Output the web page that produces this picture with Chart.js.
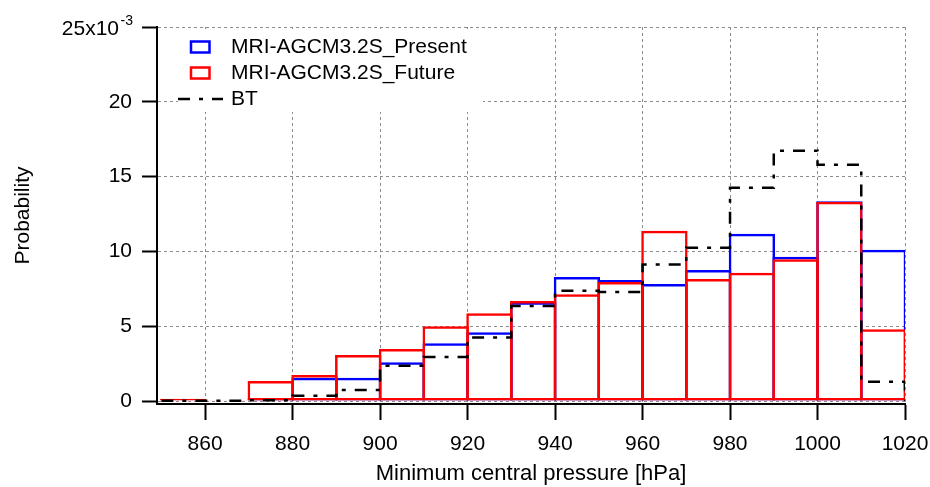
<!DOCTYPE html>
<html>
<head>
<meta charset="utf-8">
<script src="https://cdn.jsdelivr.net/npm/chart.js@4.4.1/dist/chart.umd.min.js"></script>
<style>
  html, body { margin: 0; padding: 0; background: #fff; }
  #wrap { width: 930px; height: 487px; }
</style>
</head>
<body>
<div id="wrap"><canvas id="hist" width="930" height="487"></canvas></div>
<script>
// bin left edges (hPa), 10 hPa bins
const binLeft = [850, 860, 870, 880, 890, 900, 910, 920, 930, 940, 950, 960, 970, 980, 990, 1000, 1010]
const binWidth = 10

// probability, in units of 1e-3
const present = [0.05, 0.0, 0.18, 1.56, 1.56, 2.59, 3.86, 4.59, 6.6, 8.29, 8.09, 7.82, 8.76, 11.18, 9.65, 13.35, 10.11]
const future = [0.15, 0.05, 1.34, 1.74, 3.07, 3.48, 4.99, 5.86, 6.68, 7.13, 7.95, 11.38, 8.16, 8.58, 9.47, 13.32, 4.79]
const bt = [0.02, 0.02, 0.05, 0.35, 0.73, 2.35, 2.95, 4.25, 6.35, 7.37, 7.29, 9.13, 10.24, 14.26, 16.73, 15.79, 1.29]

const xTicks = [860, 880, 900, 920, 940, 960, 980, 1000, 1020]
const yTicks = [0, 5, 10, 15, 20, 25]

const FONT = "'Liberation Sans', Arial, Helvetica, sans-serif"

const barData = (vals) => vals.map((v, i) => ({x: binLeft[i] + binWidth / 2, y: v}))
const stepData = (vals) => {
  const pts = vals.map((v, i) => ({x: binLeft[i], y: v}))
  const end = binLeft[binLeft.length - 1] + binWidth
  pts.push({x: end, y: vals[vals.length - 1]})
  pts.push({x: end, y: 0})
  return pts
}

const BT_DASH = [12, 9, 4, 9]

// legend inside the plot, top left, on a white patch
const insideLegend = {
  id: 'insideLegend',
  afterDatasetsDraw(chart) {
    const ctx = chart.ctx
    const ds = chart.data.datasets
    ctx.save()
    ctx.fillStyle = '#fff'
    ctx.fillRect(178, 29, 305, 83)
    ctx.font = '21px ' + FONT
    ctx.textBaseline = 'alphabetic'
    ctx.fillStyle = '#000'
    const rows = [53, 79, 105]
    ds.forEach((d, i) => {
      const base = rows[i]
      ctx.strokeStyle = d.borderColor
      ctx.lineWidth = 2.5
      if (d.type === 'line') {
        ctx.setLineDash(BT_DASH)
        ctx.beginPath()
        ctx.moveTo(178, base - 6)
        ctx.lineTo(223, base - 6)
        ctx.stroke()
        ctx.setLineDash([])
      } else {
        ctx.strokeRect(191, base - 11.5, 18.5, 11)
      }
      ctx.fillText(d.label, 231, base)
    })
    ctx.restore()
  }
}

// "25x10^-3" top tick label
const topLabel = {
  id: 'topLabel',
  afterDraw(chart) {
    const y = chart.scales.y.getPixelForValue(25)
    const ctx = chart.ctx
    ctx.save()
    ctx.fillStyle = '#000'
    ctx.textAlign = 'right'
    ctx.textBaseline = 'alphabetic'
    ctx.font = '14px ' + FONT
    ctx.fillText('-3', 133, y - 2)
    ctx.font = '21px ' + FONT
    ctx.fillText('25x10', 119, y + 7.5)
    ctx.restore()
  }
}

new Chart(document.getElementById('hist'), {
  type: 'bar',
  data: {
    datasets: [
      {
        label: 'MRI-AGCM3.2S_Present',
        data: barData(present),
        backgroundColor: 'rgba(0,0,0,0)',
        borderColor: '#0000ff',
        borderWidth: 2.5,
        borderSkipped: false,
        grouped: false,
        categoryPercentage: 1,
        barPercentage: 1.06,
        order: 2
      },
      {
        label: 'MRI-AGCM3.2S_Future',
        data: barData(future),
        backgroundColor: 'rgba(0,0,0,0)',
        borderColor: '#ff0000',
        borderWidth: 2.5,
        borderSkipped: false,
        grouped: false,
        categoryPercentage: 1,
        barPercentage: 1.06,
        order: 1
      },
      {
        type: 'line',
        label: 'BT',
        data: stepData(bt),
        stepped: 'before',
        borderColor: '#000',
        borderWidth: 2.5,
        borderDash: BT_DASH,
        pointRadius: 0,
        fill: false,
        order: 0
      }
    ]
  },
  options: {
    responsive: false,
    animation: false,
    layout: { padding: { top: 27, right: 25, left: 0, bottom: 0 } },
    plugins: {
      legend: { display: false },
      tooltip: { enabled: false }
    },
    scales: {
      x: {
        type: 'linear',
        min: 849,
        max: 1020,
        offset: false,
        afterBuildTicks: (s) => { s.ticks = xTicks.map(v => ({value: v})) },
        afterFit: (s) => {
          s.height = 83
          // keep the plot edge at the right place, label overhang fits in the layout padding
          s.paddingLeft = 0
          s.paddingRight = 0
        },
        grid: { offset: false, color: '#8c8c8c', lineWidth: 1, tickLength: 16, tickColor: '#000', tickWidth: 2 },
        border: { display: true, color: '#000', width: 2, dash: [3, 3] },
        ticks: {
          color: '#000',
          font: { family: FONT, size: 21 },
          padding: 12,
          maxRotation: 0,
          callback: (v) => String(v)
        },
        title: {
          display: true,
          text: 'Minimum central pressure [hPa]',
          color: '#000',
          font: { family: FONT, size: 22 },
          padding: { top: 0, bottom: 0 }
        }
      },
      y: {
        min: -0.2,
        max: 25,
        afterBuildTicks: (s) => { s.ticks = yTicks.map(v => ({value: v})) },
        afterFit: (s) => { s.width = 157 },
        grid: { color: '#8c8c8c', lineWidth: 1, tickLength: 15, tickColor: '#000', tickWidth: 2 },
        border: { display: true, color: '#000', width: 2, dash: [3, 3] },
        ticks: {
          color: '#000',
          font: { family: FONT, size: 21 },
          padding: 10,
          callback: (v) => v === 25 ? '' : v
        },
        title: {
          display: true,
          text: 'Probability',
          color: '#000',
          font: { family: FONT, size: 21 },
          padding: { top: 11, bottom: 0 }
        }
      }
    }
  },
  plugins: [insideLegend, topLabel]
})
</script>
</body>
</html>
